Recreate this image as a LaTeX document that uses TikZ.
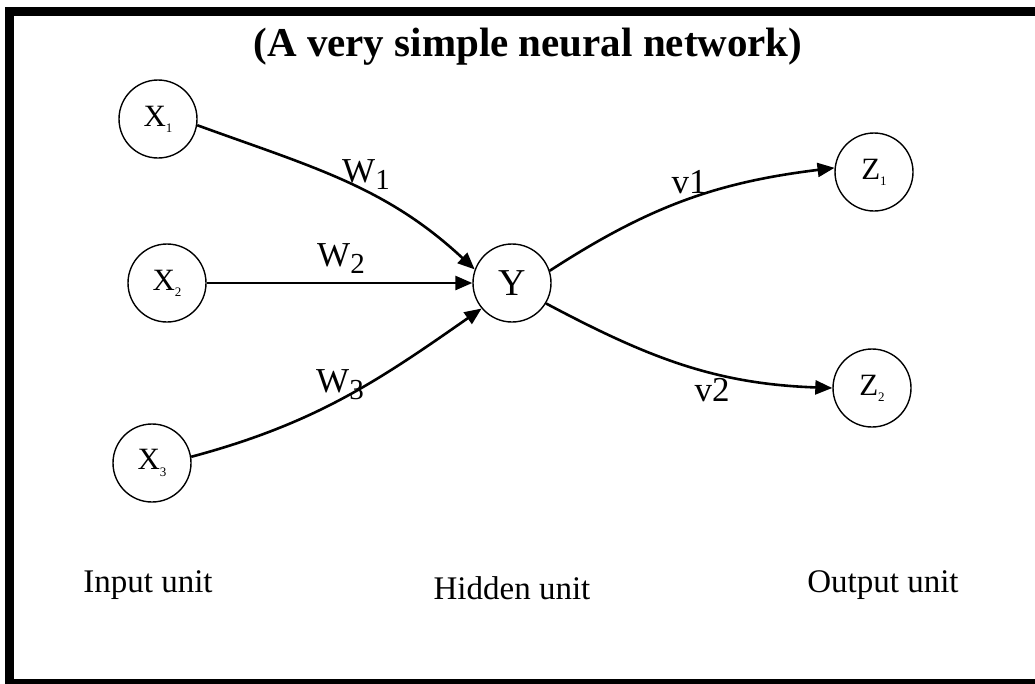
\documentclass[tikz,border=0pt]{standalone}
\usepackage{fontspec}
\setmainfont{Liberation Serif}
\usetikzlibrary{arrows.meta}
\newcommand{\sz}[1]{\fontsize{#1}{#1}\selectfont}
\newcommand{\nsub}[1]{\raisebox{-0.2em}{\sz{13}#1}}
\newcommand{\wsub}[1]{\raisebox{-7pt}{\sz{29}#1}}
\begin{document}
\begin{tikzpicture}[x=1pt,y=-1pt,
  unit/.style={circle,draw,line width=1.4pt,minimum size=78pt,inner sep=0pt,font=\sz{31}},
  conn/.style={line width=2.6pt,-{Triangle[length=17pt,width=14pt]}},
  wlab/.style={inner sep=0pt,font=\sz{35}},
  unitcap/.style={inner sep=0pt,font=\sz{33}}]
\useasboundingbox (0,0) rectangle (1035,683);
\fill[white] (0,0) rectangle (1035,683);
\draw[line width=9pt] (9.5,11.5) rectangle (1045,683.5);
\node[inner sep=0pt,font=\sz{41}\bfseries] (title) at (528,47) {(A very simple neural network)};
\node[unit] (x1) at (158,119) {X\nsub{1}};
\node[unit] (x2) at (167,283) {X\nsub{2}};
\node[unit] (x3) at (152,463) {X\nsub{3}};
\node[unit,font=\sz{38}] (y) at (512,283) {Y};
\node[unit] (z1) at (874,172) {Z\nsub{1}};
\node[unit] (z2) at (872,388) {Z\nsub{2}};
\draw[conn] (x1.-9) to[out=-20,in=137] (y.160);
\draw[conn] (x2) -- (y);
\draw[conn] (x3.9) to[out=15,in=-145] (y.-140);
\draw[conn] (y.18) to[out=33,in=187] (z1.174);
\draw[conn] (y.-31) to[out=-28,in=178] (z2.180);
\node[wlab] (w1) at (366,175) {W\wsub{1}};
\node[wlab] (w2) at (341,259) {W\wsub{2}};
\node[wlab] (w3) at (340,385) {W\wsub{3}};
\node[wlab] (v1) at (689,182) {v1};
\node[wlab] (v2) at (712,390) {v2};
\node[unitcap] (in) at (148,585) {Input unit};
\node[unitcap] (hid) at (512,588) {Hidden unit};
\node[unitcap] (out) at (883,585) {Output unit};
\end{tikzpicture}
\end{document}
